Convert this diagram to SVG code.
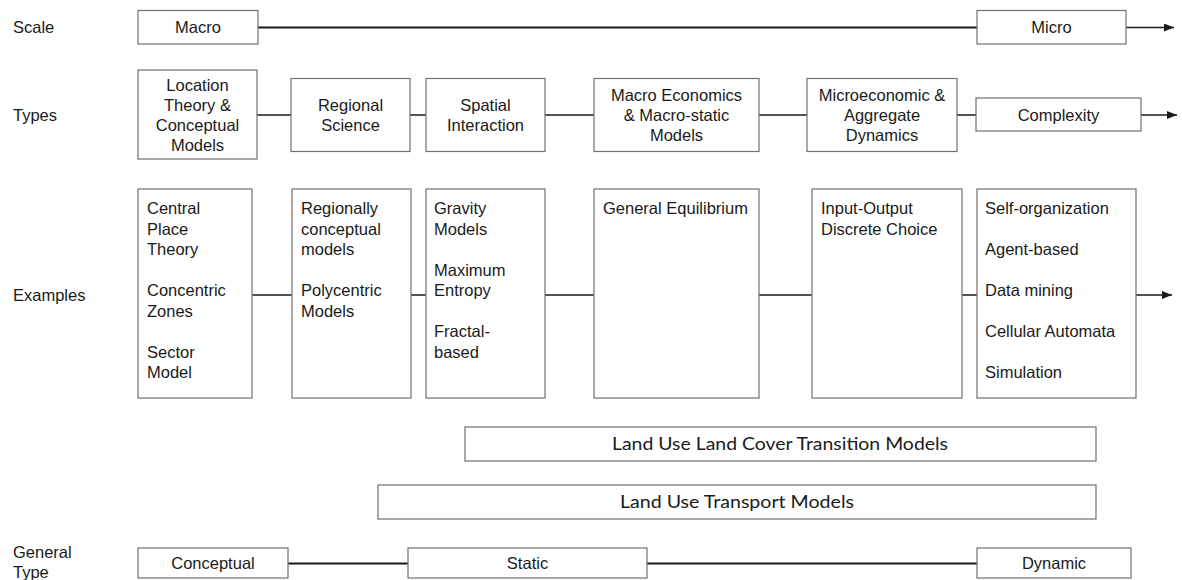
<svg xmlns="http://www.w3.org/2000/svg" width="1182" height="580" viewBox="0 0 1182 580">
  <style>
    .box { fill: #ffffff; stroke: #707070; stroke-width: 1.2; }
    .t { font-family: "Liberation Sans", Arial, sans-serif; font-size: 16.5px; fill: #1a1a1a; }
    .c { text-anchor: middle; }
    .band { font-family: Lato, "Open Sans", sans-serif; font-size: 18px; fill: #1a1a1a; }
    .link { stroke: #1a1a1a; stroke-width: 1.5; fill: none; }
    .thick { stroke-width: 2; }
  </style>
  <defs>
    <marker id="arrow" viewBox="0 0 10 8" refX="10" refY="4" markerWidth="10" markerHeight="8" markerUnits="userSpaceOnUse" orient="auto">
      <path d="M0,0 L10,4 L0,8 Z" fill="#1a1a1a"/>
    </marker>
  </defs>

  <!-- row labels -->
  <g id="row-labels">
    <text class="t" x="13" y="33">Scale</text>
    <text class="t" x="13" y="121">Types</text>
    <text class="t" x="13" y="301">Examples</text>
    <text class="t" x="13" y="558">General</text>
    <text class="t" x="13" y="578">Type</text>
  </g>

  <!-- connectors -->
  <g id="connectors">
    <!-- scale -->
    <line class="link thick" x1="258" y1="27.5" x2="977" y2="27.5"/>
    <line class="link" x1="1126" y1="27.5" x2="1174" y2="27.5" marker-end="url(#arrow)"/>
    <!-- types -->
    <line class="link" x1="257" y1="115" x2="291" y2="115"/>
    <line class="link" x1="410" y1="115" x2="426" y2="115"/>
    <line class="link" x1="545" y1="115" x2="594" y2="115"/>
    <line class="link" x1="759" y1="115" x2="807" y2="115"/>
    <line class="link" x1="957" y1="115" x2="976" y2="115"/>
    <line class="link" x1="1141" y1="115" x2="1177" y2="115" marker-end="url(#arrow)"/>
    <!-- examples -->
    <line class="link" x1="252" y1="295" x2="292" y2="295"/>
    <line class="link" x1="411" y1="295" x2="426" y2="295"/>
    <line class="link" x1="545" y1="295" x2="594" y2="295"/>
    <line class="link" x1="759" y1="295" x2="812" y2="295"/>
    <line class="link" x1="962" y1="295" x2="977" y2="295"/>
    <line class="link" x1="1136" y1="295" x2="1172" y2="295" marker-end="url(#arrow)"/>
    <!-- general type -->
    <line class="link thick" x1="288" y1="563.5" x2="408" y2="563.5"/>
    <line class="link thick" x1="647" y1="563.5" x2="977" y2="563.5"/>
  </g>

  <!-- scale row -->
  <g id="scale-macro">
    <rect class="box" x="138" y="10.5" width="120" height="33.5"/>
    <text class="t c" x="198" y="33">Macro</text>
  </g>
  <g id="scale-micro">
    <rect class="box" x="977" y="10.5" width="149" height="33.5"/>
    <text class="t c" x="1051.5" y="33">Micro</text>
  </g>

  <!-- types row -->
  <g id="type-location">
    <rect class="box" x="138" y="70" width="119" height="89"/>
    <text class="t c" x="197.5" y="91">Location</text>
    <text class="t c" x="197.5" y="111">Theory &amp;</text>
    <text class="t c" x="197.5" y="131">Conceptual</text>
    <text class="t c" x="197.5" y="151">Models</text>
  </g>
  <g id="type-regional">
    <rect class="box" x="291" y="78.5" width="119" height="73"/>
    <text class="t c" x="350.5" y="111">Regional</text>
    <text class="t c" x="350.5" y="131">Science</text>
  </g>
  <g id="type-spatial">
    <rect class="box" x="426" y="78.5" width="119" height="73"/>
    <text class="t c" x="485.5" y="111">Spatial</text>
    <text class="t c" x="485.5" y="131">Interaction</text>
  </g>
  <g id="type-macroeconomics">
    <rect class="box" x="594" y="78.5" width="165" height="73"/>
    <text class="t c" x="676.5" y="101">Macro Economics</text>
    <text class="t c" x="676.5" y="121">&amp; Macro-static</text>
    <text class="t c" x="676.5" y="141">Models</text>
  </g>
  <g id="type-microeconomic">
    <rect class="box" x="807" y="78.5" width="150" height="73"/>
    <text class="t c" x="882" y="101">Microeconomic &amp;</text>
    <text class="t c" x="882" y="121">Aggregate</text>
    <text class="t c" x="882" y="141">Dynamics</text>
  </g>
  <g id="type-complexity">
    <rect class="box" x="976" y="98" width="165" height="33"/>
    <text class="t c" x="1058.5" y="121">Complexity</text>
  </g>

  <!-- examples row -->
  <g id="ex-location">
    <rect class="box" x="138" y="189" width="114" height="209"/>
    <text class="t" x="147" y="214">Central</text>
    <text class="t" x="147" y="234.5">Place</text>
    <text class="t" x="147" y="255">Theory</text>
    <text class="t" x="147" y="296">Concentric</text>
    <text class="t" x="147" y="316.5">Zones</text>
    <text class="t" x="147" y="357.5">Sector</text>
    <text class="t" x="147" y="378">Model</text>
  </g>
  <g id="ex-regional">
    <rect class="box" x="292" y="189" width="119" height="209"/>
    <text class="t" x="301" y="214">Regionally</text>
    <text class="t" x="301" y="234.5">conceptual</text>
    <text class="t" x="301" y="255">models</text>
    <text class="t" x="301" y="296">Polycentric</text>
    <text class="t" x="301" y="316.5">Models</text>
  </g>
  <g id="ex-spatial">
    <rect class="box" x="426" y="189" width="119" height="209"/>
    <text class="t" x="434" y="214">Gravity</text>
    <text class="t" x="434" y="234.5">Models</text>
    <text class="t" x="434" y="275.5">Maximum</text>
    <text class="t" x="434" y="296">Entropy</text>
    <text class="t" x="434" y="337">Fractal-</text>
    <text class="t" x="434" y="357.5">based</text>
  </g>
  <g id="ex-macroeconomics">
    <rect class="box" x="594" y="189" width="165" height="209"/>
    <text class="t" x="603" y="214">General Equilibrium</text>
  </g>
  <g id="ex-microeconomic">
    <rect class="box" x="812" y="189" width="150" height="209"/>
    <text class="t" x="821" y="214">Input-Output</text>
    <text class="t" x="821" y="234.5">Discrete Choice</text>
  </g>
  <g id="ex-complexity">
    <rect class="box" x="977" y="189" width="159" height="209"/>
    <text class="t" x="985" y="214">Self-organization</text>
    <text class="t" x="985" y="255">Agent-based</text>
    <text class="t" x="985" y="296">Data mining</text>
    <text class="t" x="985" y="337">Cellular Automata</text>
    <text class="t" x="985" y="378">Simulation</text>
  </g>

  <!-- model families spanning several types -->
  <g id="band-lulc">
    <rect class="box" x="465" y="427" width="631" height="34"/>
    <text class="band" x="612" y="450" textLength="336" lengthAdjust="spacingAndGlyphs">Land Use Land Cover Transition Models</text>
  </g>
  <g id="band-lut">
    <rect class="box" x="378" y="485" width="718" height="34"/>
    <text class="band" x="620" y="508" textLength="234" lengthAdjust="spacingAndGlyphs">Land Use Transport Models</text>
  </g>

  <!-- general type row -->
  <g id="gen-conceptual">
    <rect class="box" x="138" y="548" width="150" height="30"/>
    <text class="t c" x="213" y="569">Conceptual</text>
  </g>
  <g id="gen-static">
    <rect class="box" x="408" y="548" width="239" height="30"/>
    <text class="t c" x="527.5" y="569">Static</text>
  </g>
  <g id="gen-dynamic">
    <rect class="box" x="977" y="548" width="154" height="30"/>
    <text class="t c" x="1054" y="569">Dynamic</text>
  </g>
</svg>
